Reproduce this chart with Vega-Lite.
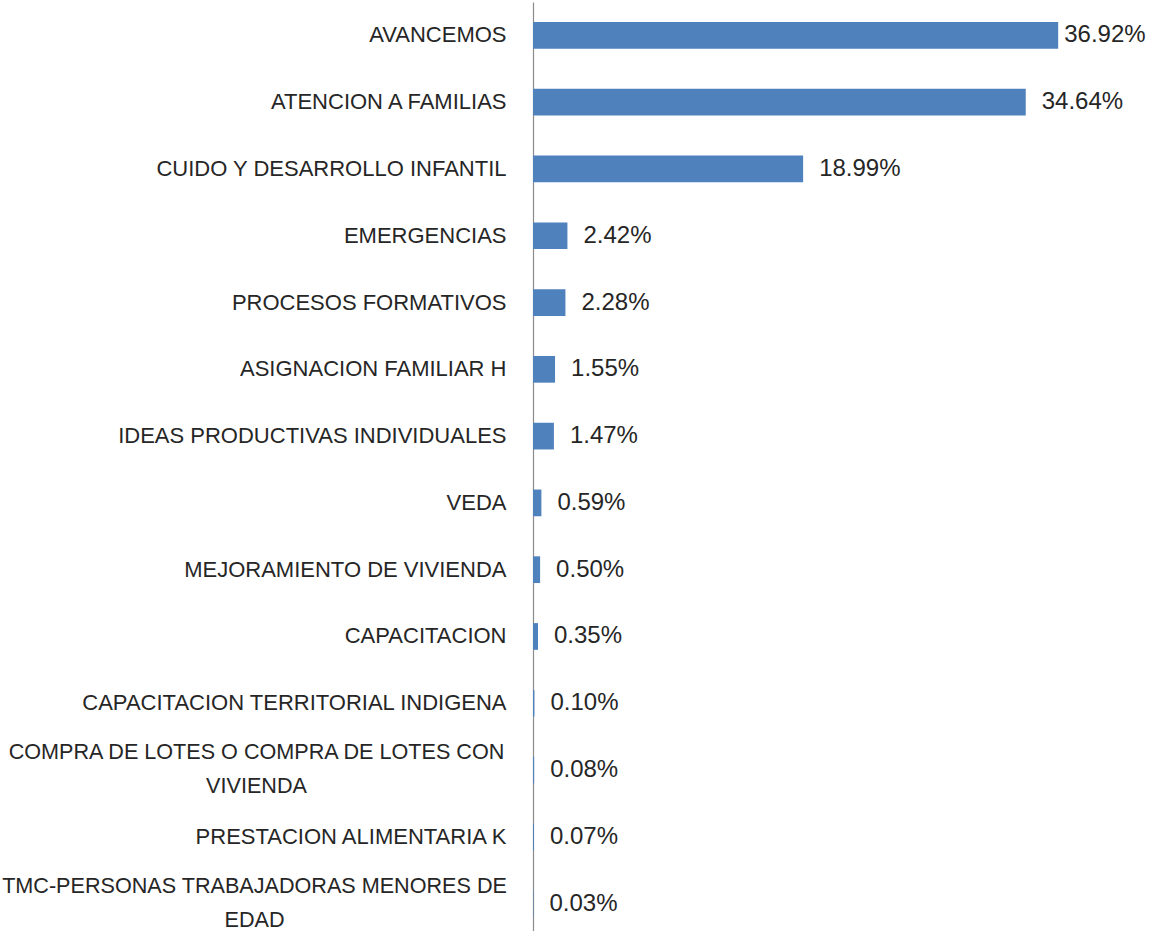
{
  "$schema": "https://vega.github.io/schema/vega-lite/v6.json",
  "autosize": {"type": "none"},
  "padding": {"left": 533, "top": 2, "right": 47, "bottom": 0},
  "width": 569,
  "height": 935,
  "background": "white",
  "data": {
    "values": [
      {"programa": "AVANCEMOS", "share": 0.3692},
      {"programa": "ATENCION A FAMILIAS", "share": 0.3464},
      {"programa": "CUIDO Y DESARROLLO INFANTIL", "share": 0.1899},
      {"programa": "EMERGENCIAS", "share": 0.0242},
      {"programa": "PROCESOS FORMATIVOS", "share": 0.0228},
      {"programa": "ASIGNACION FAMILIAR H", "share": 0.0155},
      {"programa": "IDEAS PRODUCTIVAS INDIVIDUALES", "share": 0.0147},
      {"programa": "VEDA", "share": 0.0059},
      {"programa": "MEJORAMIENTO DE VIVIENDA", "share": 0.005},
      {"programa": "CAPACITACION", "share": 0.0035},
      {"programa": "CAPACITACION TERRITORIAL  INDIGENA", "share": 0.001},
      {"programa": "COMPRA DE LOTES O COMPRA DE LOTES CON VIVIENDA", "share": 0.0008},
      {"programa": "PRESTACION ALIMENTARIA K", "share": 0.0007},
      {"programa": "TMC-PERSONAS TRABAJADORAS MENORES DE EDAD", "share": 0.0003}
    ]
  },
  "encoding": {
    "y": {
      "field": "programa",
      "type": "nominal",
      "sort": null,
      "scale": {"paddingInner": 0.6, "paddingOuter": 0.3},
      "axis": {
        "title": null,
        "ticks": false,
        "tickSize": 0,
        "domainColor": "#8c8c8c",
        "domainWidth": 1.2,
        "labelFont": "Liberation Sans",
        "labelFontSize": {"condition": {"test": "indexof(datum.value, 'COMPRA') == 0 || indexof(datum.value, 'TMC') == 0", "value": 21.6}, "value": 22},
        "labelColor": "#262626",
        "labelLimit": 0,
        "labelOverlap": false,
        "labelLineHeight": 34,
        "labelOffset": {"condition": {"test": "indexof(datum.value, 'COMPRA') == 0 || indexof(datum.value, 'TMC') == 0", "value": -17}, "value": 0},
        "labelPadding": {"condition": [
          {"test": "indexof(datum.value, 'COMPRA') == 0", "value": 277},
          {"test": "indexof(datum.value, 'TMC') == 0", "value": 279}
        ], "value": 27},
        "labelAlign": {"condition": {"test": "indexof(datum.value, 'COMPRA') == 0 || indexof(datum.value, 'TMC') == 0", "value": "center"}, "value": "right"},
        "labelExpr": "datum.value == 'COMPRA DE LOTES O COMPRA DE LOTES CON VIVIENDA' ? ['COMPRA DE LOTES O COMPRA DE LOTES CON', 'VIVIENDA'] : datum.value == 'TMC-PERSONAS TRABAJADORAS MENORES DE EDAD' ? ['TMC-PERSONAS TRABAJADORAS MENORES DE', 'EDAD'] : datum.value"
      }
    }
  },
  "layer": [
    {
      "mark": {"type": "bar", "color": "#4f81bd"},
      "encoding": {
        "x": {"field": "share", "type": "quantitative", "scale": {"domain": [0, 0.4], "nice": false}, "axis": null}
      }
    },
    {
      "mark": {"type": "text", "align": "left", "baseline": "middle", "font": "Liberation Sans", "fontSize": 24, "color": "#262626", "dx": {"expr": "datum.share > 0.36 ? 6 : 16"}},
      "encoding": {
        "x": {"field": "share", "type": "quantitative"},
        "text": {"field": "share", "type": "quantitative", "format": ".2%"}
      }
    }
  ],
  "config": {"view": {"stroke": null}}
}
